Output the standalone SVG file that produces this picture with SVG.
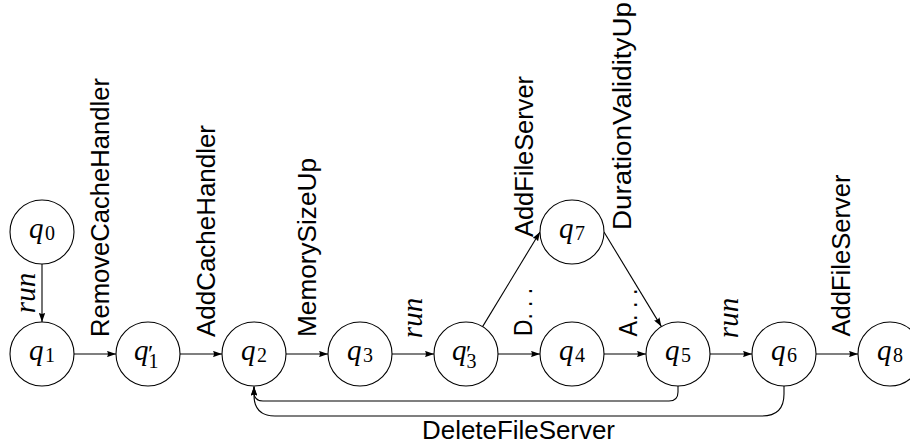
<svg xmlns="http://www.w3.org/2000/svg" width="910" height="444" viewBox="0 0 910 444">
<style>
.st{fill:#fff;stroke:#000;stroke-width:1.1}
.e{fill:none;stroke:#000;stroke-width:1.1;marker-end:url(#ah)}
.q{font-family:"Liberation Serif",serif;font-style:italic;font-size:29px;fill:#000}
.s{font-style:normal;font-size:20px}
.p{font-style:normal;font-size:24px}
.lab{font-family:"Liberation Sans",Arial,sans-serif;font-size:26px;fill:#000}
.run{font-family:"Liberation Serif",serif;font-style:italic;font-size:29px;fill:#000}
</style>
<defs>
<marker id="ah" viewBox="0 0 10 7" refX="10" refY="3.5" markerWidth="9" markerHeight="6.3" markerUnits="userSpaceOnUse" orient="auto">
<path d="M0,0 L10,3.5 L0,7 Q2,3.5 0,0 z" fill="#000"/>
</marker>
</defs>
<g id="edges">
<path class="e" d="M42,264 V322"/>
<path class="e" d="M74,354 H116"/>
<path class="e" d="M180,354 H222"/>
<path class="e" d="M286,354 H328"/>
<path class="e" d="M392,354 H434"/>
<path class="e" d="M498,354 H540"/>
<path class="e" d="M482.6,326.6 L540,232"/>
<path class="e" d="M604,354 H646"/>
<path class="e" d="M604,232 L661.4,326.6"/>
<path class="e" d="M710,354 H752"/>
<path class="e" d="M816,354 H858"/>
<path class="e" d="M678,386 V392 Q678,401 669,401 H263 Q254,401 254,392 V386.5"/>
<path class="e" d="M784,386 V394 Q784,416 762,416 H275 Q254,416 254,395 V386.5"/>
</g>
<g id="labels">
<text class="run" transform="translate(35,293) rotate(-90)" text-anchor="middle">run</text>
<text class="lab" transform="translate(109,337) rotate(-90)" textLength="259" lengthAdjust="spacingAndGlyphs">RemoveCacheHandler</text>
<text class="lab" transform="translate(215,337) rotate(-90)" textLength="212" lengthAdjust="spacingAndGlyphs">AddCacheHandler</text>
<text class="lab" transform="translate(316,337) rotate(-90)" textLength="179" lengthAdjust="spacingAndGlyphs">MemorySizeUp</text>
<text class="run" transform="translate(421.5,318) rotate(-90)" text-anchor="middle">run</text>
<text class="lab" transform="translate(533,237) rotate(-90)" textLength="161" lengthAdjust="spacingAndGlyphs">AddFileServer</text>
<text class="lab" transform="translate(531.5,336) rotate(-90)" textLength="48" lengthAdjust="spacingAndGlyphs">D. . .</text>
<text class="lab" transform="translate(631,230) rotate(-90)" textLength="228" lengthAdjust="spacingAndGlyphs">DurationValidityUp</text>
<text class="lab" transform="translate(636.5,336.5) rotate(-90)" textLength="48" lengthAdjust="spacingAndGlyphs">A. . .</text>
<text class="run" transform="translate(738,318) rotate(-90)" text-anchor="middle">run</text>
<text class="lab" transform="translate(850,336.5) rotate(-90)" textLength="162" lengthAdjust="spacingAndGlyphs">AddFileServer</text>
<text class="lab" x="422" y="439" textLength="193" lengthAdjust="spacingAndGlyphs">DeleteFileServer</text>
</g>
<g id="q0"><circle class="st" cx="42" cy="232" r="32"/><text class="q" x="29" y="238">q<tspan class="s" x="45" y="240">0</tspan></text></g>
<g id="q1"><circle class="st" cx="42" cy="354" r="32"/><text class="q" x="29" y="360">q<tspan class="s" x="45" y="362">1</tspan></text></g>
<g id="q1p"><circle class="st" cx="148" cy="354" r="32"/><text class="q" x="134" y="360">q<tspan class="p" x="148" y="361">′</tspan><tspan class="s" x="148.5" y="368">1</tspan></text></g>
<g id="q2"><circle class="st" cx="254" cy="354" r="32"/><text class="q" x="241" y="360">q<tspan class="s" x="257" y="362">2</tspan></text></g>
<g id="q3"><circle class="st" cx="360" cy="354" r="32"/><text class="q" x="347" y="360">q<tspan class="s" x="363" y="362">3</tspan></text></g>
<g id="q3p"><circle class="st" cx="466" cy="354" r="32"/><text class="q" x="452" y="360">q<tspan class="p" x="466" y="361">′</tspan><tspan class="s" x="466.5" y="368">3</tspan></text></g>
<g id="q4"><circle class="st" cx="572" cy="354" r="32"/><text class="q" x="559" y="360">q<tspan class="s" x="575" y="362">4</tspan></text></g>
<g id="q7"><circle class="st" cx="572" cy="232" r="32"/><text class="q" x="559" y="238">q<tspan class="s" x="575" y="240">7</tspan></text></g>
<g id="q5"><circle class="st" cx="678" cy="354" r="32"/><text class="q" x="665" y="360">q<tspan class="s" x="681" y="362">5</tspan></text></g>
<g id="q6"><circle class="st" cx="784" cy="354" r="32"/><text class="q" x="771" y="360">q<tspan class="s" x="787" y="362">6</tspan></text></g>
<g id="q8"><circle class="st" cx="890" cy="354" r="32"/><text class="q" x="877" y="360">q<tspan class="s" x="893" y="362">8</tspan></text></g>
</svg>
